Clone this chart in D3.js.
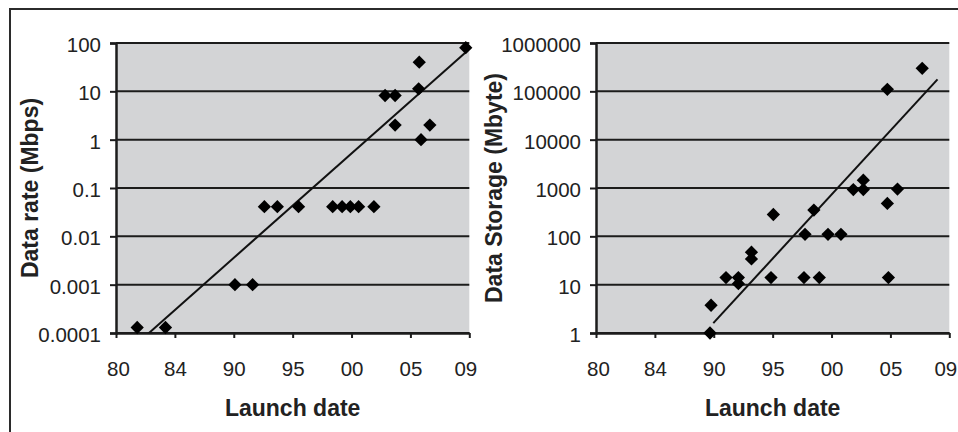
<!DOCTYPE html>
<html>
<head>
<meta charset="utf-8">
<script src="https://cdn.jsdelivr.net/npm/d3@7"></script>
<style>
  body { margin: 0; background: #fff; }
  svg { display: block; font-family: "Liberation Sans", Arial, sans-serif; }
</style>
</head>
<body>
<svg id="chart" width="958" height="432"></svg>
<script>
// x axis (launch year) - shared by both panels
const xTickYears = [1980, 1985, 1990, 1995, 2000, 2005, 2010];
const xTickLabels = ["80", "84", "90", "95", "00", "05", "09"];

// left panel: data rate
const rateYears = [1981.8, 1984.2, 1990.1, 1991.6, 1992.6, 1993.7, 1995.5, 1998.4, 1999.2, 1999.9,
    2000.6, 2001.9, 2002.85, 2003.7, 2003.7, 2005.75, 2005.7, 2005.9, 2006.65, 2009.7];
const rateValues = [0.00013, 0.00013, 0.001, 0.001, 0.041, 0.041, 0.041, 0.041, 0.041, 0.041,
    0.041, 0.041, 8.2, 8.2, 2.0, 40, 11.3, 1.0, 2.0, 80];
const rateTicks = [0.0001, 0.001, 0.01, 0.1, 1, 10, 100];
const rateTickLabels = ["0.0001", "0.001", "0.01", "0.1", "1", "10", "100"];
const rateTrendYears = [1981.84, 2009.7];
const rateTrendValues = [0.000062, 64.6];

// right panel: data storage
const storageYears = [2007.7, 2004.74, 2002.7, 2001.85, 2002.7, 2005.6, 2004.74, 1998.5, 1995.06, 1997.75,
    1999.7, 2000.8, 1993.2, 1993.2, 1991.04, 1992.09, 1992.09, 1994.86, 1997.66, 1998.96,
    2004.83, 1989.77, 1989.68];
const storageValues = [300000, 110000, 1450, 930, 930, 950, 480, 350, 283, 110,
    110, 110, 47, 34, 14, 14, 10.5, 14, 14, 14,
    14, 3.75, 1];
const storageTicks = [1, 10, 100, 1000, 10000, 100000, 1000000];
const storageTickLabels = ["1", "10", "100", "1000", "10000", "100000", "1000000"];
const storageTrendYears = [1989.96, 2009.0];
const storageTrendValues = [1.6, 177000];

const svg = d3.select("#chart");

// outer frame (runs off the right and bottom edge)
svg.append("rect")
    .attr("x", 10).attr("y", 9)
    .attr("width", 980).attr("height", 460)
    .attr("fill", "none")
    .attr("stroke", "#2b2b2b")
    .attr("stroke-width", 2);

const diamond = d3.symbol().type(d3.symbolSquare).size(88);

function drawPanel(opts) {
    const left = opts.left, right = opts.right, top = 43, bottom = 333;
    const g = svg.append("g");

    const x = d3.scaleLinear().domain([1980, 2010]).range([left, right]);
    const y = d3.scaleLog().domain(d3.extent(opts.ticks)).range([bottom, top]);

    g.append("rect")
        .attr("x", left).attr("y", top)
        .attr("width", right - left).attr("height", bottom - top)
        .attr("fill", "#d3d4d6");

    // gridlines
    g.selectAll(".grid")
        .data(opts.ticks)
        .enter()
        .append("line")
        .attr("x1", left).attr("x2", right)
        .attr("y1", d => y(d)).attr("y2", d => y(d))
        .attr("stroke", "#1c1c1c")
        .attr("stroke-width", 2);

    // y axis
    const yAxis = g.append("g")
        .attr("transform", `translate(${left},0)`)
        .call(d3.axisLeft(y)
            .tickValues(opts.ticks)
            .tickFormat((d, i) => opts.tickLabels[i])
            .tickSize(6)
            .tickPadding(9));
    yAxis.select(".domain").attr("stroke", "#1c1c1c").attr("stroke-width", 2.5);
    yAxis.selectAll(".tick line").attr("stroke", "#1c1c1c").attr("stroke-width", 2);
    yAxis.selectAll(".tick text")
        .attr("font-size", "20.5px")
        .attr("fill", "#222")
        .attr("dy", "0.42em");

    // x axis
    const xAxis = g.append("g")
        .attr("transform", `translate(0,${bottom})`)
        .call(d3.axisBottom(x)
            .tickValues(xTickYears)
            .tickFormat((d, i) => xTickLabels[i])
            .tickSizeInner(5)
            .tickSizeOuter(0)
            .tickPadding(23));
    xAxis.select(".domain").attr("stroke", "#1c1c1c").attr("stroke-width", 2.5);
    xAxis.selectAll(".tick line").attr("stroke", "#1c1c1c").attr("stroke-width", 2);
    xAxis.selectAll(".tick text")
        .attr("font-size", "20.5px")
        .attr("fill", "#222");
    xAxis.selectAll(".tick:first-of-type text").attr("dx", "2px");
    xAxis.selectAll(".tick:last-of-type text").attr("dx", "-4px");

    // trendline, clipped to plot area
    const clipId = "clip" + left;
    g.append("clipPath").attr("id", clipId)
        .append("rect")
        .attr("x", left).attr("y", top)
        .attr("width", right - left).attr("height", bottom - top);
    const trend = opts.trendYears.map((yr, i) => [yr, opts.trendValues[i]]);
    g.append("path")
        .datum(trend)
        .attr("clip-path", `url(#${clipId})`)
        .attr("d", d3.line().x(d => x(d[0])).y(d => y(d[1])))
        .attr("fill", "none")
        .attr("stroke", "#111")
        .attr("stroke-width", 2);

    // points
    const pts = opts.years.map((yr, i) => [yr, opts.values[i]]);
    g.selectAll(".pt")
        .data(pts)
        .enter()
        .append("path")
        .attr("d", diamond)
        .attr("transform", d => `translate(${x(d[0])},${y(d[1])}) rotate(45)`)
        .attr("fill", "#000");

    // titles
    g.append("text")
        .attr("x", (left + right) / 2)
        .attr("y", 416)
        .attr("text-anchor", "middle")
        .attr("font-size", "23px")
        .attr("font-weight", "bold")
        .attr("fill", "#222")
        .text("Launch date");

    g.append("text")
        .attr("transform", `translate(${opts.titleX},${(top + bottom) / 2}) rotate(-90)`)
        .attr("text-anchor", "middle")
        .attr("font-size", "23px")
        .attr("font-weight", "bold")
        .attr("fill", "#222")
        .text(opts.title);
}

drawPanel({
    left: 116, right: 469.3, titleX: 38,
    years: rateYears, values: rateValues,
    ticks: rateTicks, tickLabels: rateTickLabels,
    trendYears: rateTrendYears, trendValues: rateTrendValues,
    title: "Data rate (Mbps)"
});

drawPanel({
    left: 596, right: 949.3, titleX: 502,
    years: storageYears, values: storageValues,
    ticks: storageTicks, tickLabels: storageTickLabels,
    trendYears: storageTrendYears, trendValues: storageTrendValues,
    title: "Data Storage (Mbyte)"
});
</script>
</body>
</html>
